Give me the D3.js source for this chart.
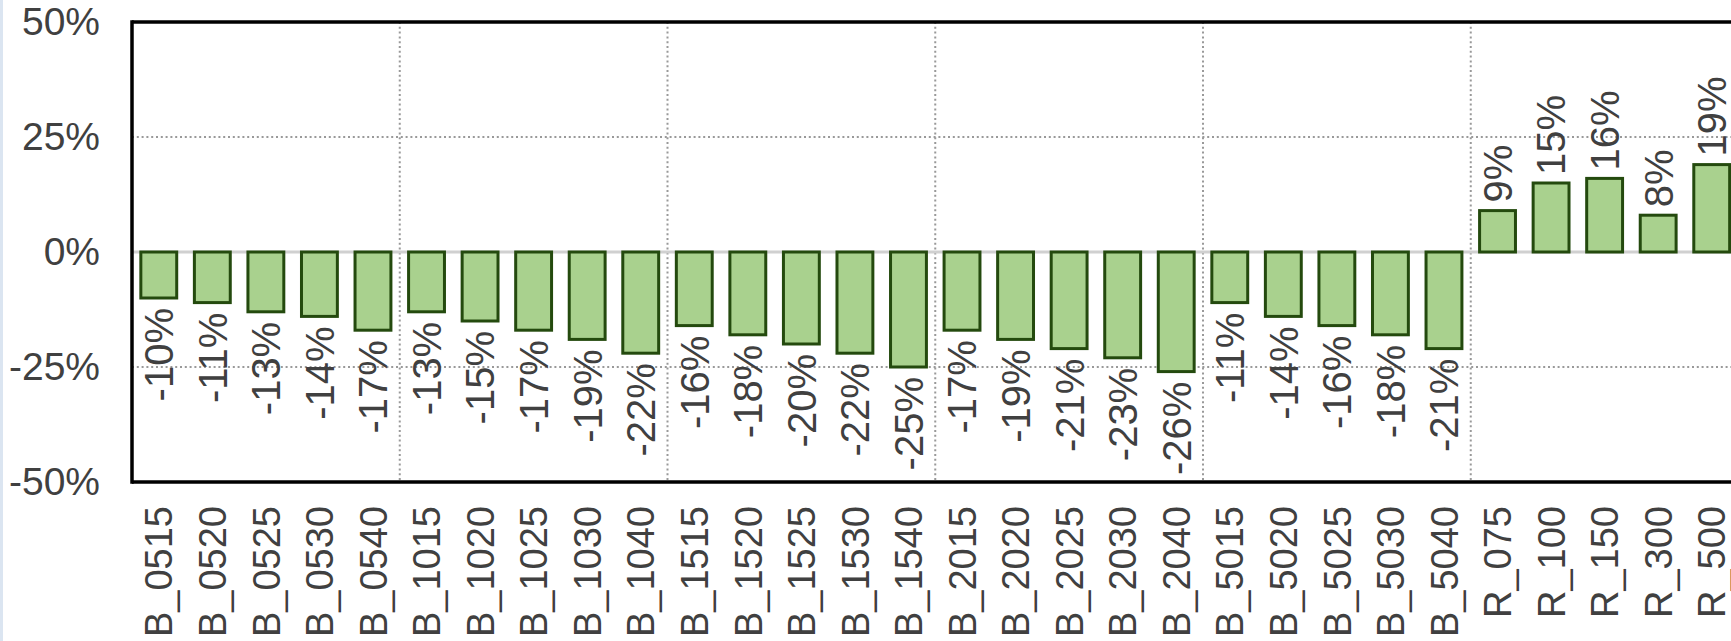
<!DOCTYPE html>
<html>
<head>
<meta charset="utf-8">
<script src="https://cdn.jsdelivr.net/npm/d3@7"></script>
<style>
  html, body { margin: 0; padding: 0; background: #fff; overflow: hidden; }
  svg { display: block; }
  text { font-family: "Liberation Sans", Arial, sans-serif; fill: #404040; }
</style>
</head>
<body>
<svg id="chart" width="1731" height="641"></svg>
<script>
// ---- data ----
const categories = [
  "B_0515","B_0520","B_0525","B_0530","B_0540",
  "B_1015","B_1020","B_1025","B_1030","B_1040",
  "B_1515","B_1520","B_1525","B_1530","B_1540",
  "B_2015","B_2020","B_2025","B_2030","B_2040",
  "B_5015","B_5020","B_5025","B_5030","B_5040",
  "R_075","R_100","R_150","R_300","R_500"
];
const values = [
  -0.10,-0.11,-0.13,-0.14,-0.17,
  -0.13,-0.15,-0.17,-0.19,-0.22,
  -0.16,-0.18,-0.20,-0.22,-0.25,
  -0.17,-0.19,-0.21,-0.23,-0.26,
  -0.11,-0.14,-0.16,-0.18,-0.21,
   0.09, 0.15, 0.16, 0.08, 0.19
];
const yTicks = [-0.5, -0.25, 0, 0.25, 0.5];
const groupSize = 5;

// ---- layout ----
const W = 1731, H = 641;
const plotLeft = 132, plotTop = 22, plotBottom = 482;
const step = 53.55;
const plotRight = plotLeft + categories.length * step;

const svg = d3.select("#chart");

// left blue strip
svg.append("rect").attr("x", 0).attr("y", 0).attr("width", 3).attr("height", H).attr("fill", "#dbe5f1");

const x = d3.scaleBand().domain(categories).range([plotLeft, plotRight]).paddingInner(0.33).paddingOuter(0.165);
const y = d3.scaleLinear().domain([-0.5, 0.5]).range([plotBottom, plotTop]);
const pct = d3.format(".0%");
const fmt = v => pct(v).replace("\u2212", "-");

// horizontal gridlines (dotted)
svg.append("g").selectAll("line").data(yTicks.filter(t => t !== 0 && Math.abs(t) !== 0.5)).join("line")
  .attr("x1", plotLeft).attr("x2", plotRight)
  .attr("y1", d => y(d)).attr("y2", d => y(d))
  .attr("stroke", "#999").attr("stroke-width", 2).attr("stroke-dasharray", "2,2.8");

// vertical group separators (dotted)
const seps = d3.range(groupSize, categories.length, groupSize);
svg.append("g").selectAll("line").data(seps).join("line")
  .attr("x1", i => x(categories[i]) - x.step() * x.paddingInner() / 2)
  .attr("x2", i => x(categories[i]) - x.step() * x.paddingInner() / 2)
  .attr("y1", plotTop).attr("y2", plotBottom)
  .attr("stroke", "#999").attr("stroke-width", 2).attr("stroke-dasharray", "2,2.8");

// zero line
svg.append("line").attr("x1", plotLeft).attr("x2", plotRight).attr("y1", y(0)).attr("y2", y(0))
  .attr("stroke", "#d0d0d0").attr("stroke-width", 3);

// bars
svg.append("g").selectAll("rect").data(values).join("rect")
  .attr("x", (d, i) => x(categories[i]))
  .attr("width", x.bandwidth())
  .attr("y", d => Math.min(y(d), y(0)))
  .attr("height", d => Math.abs(y(d) - y(0)))
  .attr("fill", "#a9d18e").attr("stroke", "#244a0e").attr("stroke-width", 3);

// value labels
svg.append("g").selectAll("text").data(values).join("text")
  .attr("transform", (d, i) => {
    const cx = x(categories[i]) + x.bandwidth() / 2;
    const yy = d < 0 ? y(d) + 10 : y(d) - 8;
    return `translate(${cx},${yy}) rotate(-90)`;
  })
  .attr("dy", "0.36em")
  .attr("text-anchor", d => d < 0 ? "end" : "start")
  .style("font-size", "40px")
  .text(d => fmt(d));

// frame
svg.append("line").attr("x1", plotLeft).attr("x2", plotRight).attr("y1", plotTop).attr("y2", plotTop).attr("stroke", "#000").attr("stroke-width", 3.5);
svg.append("line").attr("x1", plotLeft).attr("x2", plotRight).attr("y1", plotBottom).attr("y2", plotBottom).attr("stroke", "#000").attr("stroke-width", 3.5);
svg.append("line").attr("x1", plotLeft).attr("x2", plotLeft).attr("y1", plotTop - 1.75).attr("y2", plotBottom + 1.75).attr("stroke", "#000").attr("stroke-width", 3.5);

// y axis
const yAxis = svg.append("g").attr("transform", `translate(${plotLeft},0)`)
  .call(d3.axisLeft(y).tickValues(yTicks).tickFormat(fmt).tickSize(0).tickPadding(32));
yAxis.select(".domain").remove();
yAxis.selectAll("text").style("font-size", "39px").attr("fill", "#404040").style("font-family", "'Liberation Sans', Arial, sans-serif");

// x axis
const xAxis = svg.append("g").attr("transform", `translate(0,${plotBottom})`)
  .call(d3.axisBottom(x).tickSize(0).tickPadding(0));
xAxis.select(".domain").remove();
xAxis.selectAll("text")
  .attr("transform", "translate(0,24) rotate(-90)")
  .attr("x", 0).attr("y", 0).attr("dy", "0.36em")
  .attr("text-anchor", "end")
  .style("font-size", "38px").attr("fill", "#404040")
  .style("font-family", "'Liberation Sans', Arial, sans-serif");
</script>
</body>
</html>
